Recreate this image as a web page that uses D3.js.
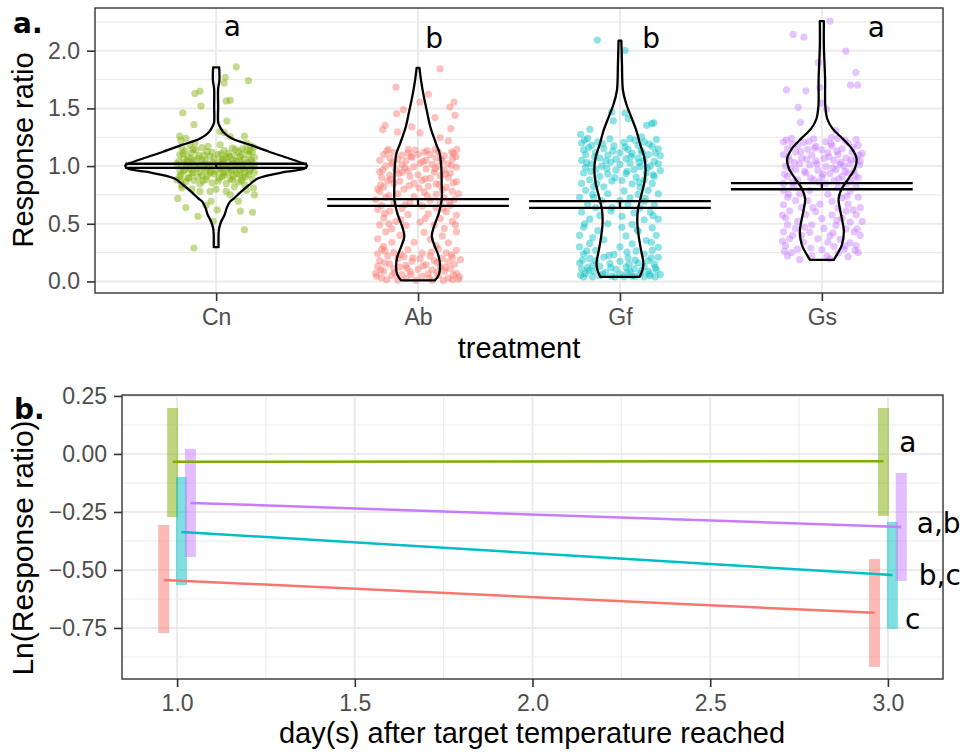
<!DOCTYPE html>
<html>
<head>
<meta charset="utf-8">
<script src="https://cdn.jsdelivr.net/npm/d3@7"></script>
<style>
  body { margin: 0; background: #fff; }
  svg text { font-family: "Liberation Sans", Arial, Helvetica, sans-serif; }
</style>
</head>
<body>
<div id="graph"></div>
<script>
// ---- data, panel a ----
var treatments = ["Cn", "Ab", "Gf", "Gs"];
var letters_a = ["a", "b", "b", "a"];
var letterPos_a = [[1.08, 2.13], [2.08, 2.02], [3.155, 2.02], [4.27, 2.12]];

// mean +/- se
var meanLo = [0.985, 0.655, 0.638, 0.799];
var meanHi = [1.02, 0.713, 0.696, 0.853];

// violin outlines: [value, half width in category units]
var violinCn = [[0.297,0.012],[0.405,0.012],[0.463,0.015],[0.52,0.025],[0.578,0.042],[0.635,0.052],[0.69,0.068],
  [0.721,0.089],[0.779,0.124],[0.836,0.163],[0.894,0.208],[0.951,0.347],[0.98,0.44],[1.005,0.45],[1.023,0.43],
  [1.066,0.362],[1.124,0.263],[1.181,0.173],[1.239,0.079],[1.296,0.035],[1.353,0.015],[1.382,0.01],[1.526,0.01],
  [1.67,0.01],[1.741,0.016],[1.856,0.015]];
var violinAb = [[0.01,0.084],[0.06,0.103],[0.132,0.109],[0.218,0.102],[0.305,0.083],[0.391,0.068],[0.477,0.079],
  [0.592,0.103],[0.707,0.117],[0.851,0.117],[0.994,0.115],[1.109,0.107],[1.195,0.089],[1.339,0.061],[1.483,0.043],
  [1.626,0.026],[1.741,0.015],[1.851,0.007]];
var violinGf = [[0.04,0.098],[0.103,0.112],[0.161,0.116],[0.276,0.104],[0.391,0.093],[0.506,0.086],[0.621,0.089],
  [0.736,0.104],[0.851,0.12],[0.966,0.127],[1.08,0.12],[1.195,0.099],[1.31,0.081],[1.425,0.056],[1.54,0.031],
  [1.655,0.015],[1.885,0.01],[2.086,0.007]];
var violinGs = [[0.187,0.059],[0.23,0.074],[0.316,0.099],[0.431,0.109],[0.546,0.099],[0.632,0.089],[0.718,0.083],
  [0.805,0.099],[0.891,0.132],[0.977,0.163],[1.063,0.172],[1.149,0.149],[1.236,0.104],[1.322,0.054],[1.408,0.027],
  [1.523,0.017],[1.753,0.016],[2.04,0.01],[2.256,0.01]];

// jittered points: [x jitter in category units, response ratio]
var pointsCn = [
  [0.10,1.86],[0.16,1.74],[0.045,1.77],[0.04,1.72],[-0.08,1.65],[-0.105,1.63],[0.07,1.57],[0.05,1.565],
  [-0.075,1.52],[-0.165,1.46],[-0.11,1.36],[0.053,1.39],[0.02,1.30],[-0.18,1.26],[-0.175,1.22],[0.14,1.26],
  [0.07,1.255],[0.04,1.29],[0.15,1.20],[-0.105,1.20],[-0.15,1.24],
  [-0.13,1.18],[0.02,1.185],[0.17,1.175],[-0.04,1.17],[-0.17,1.16],[0.08,1.155],[-0.07,1.16],[0.13,1.15],
  [0.185,1.165],[-0.10,1.14],[0.04,1.135],[0.15,1.14],[-0.155,1.13],[-0.02,1.12],[0.11,1.125],[-0.12,1.115],
  [0.18,1.12],[0.06,1.11],[-0.18,1.10],[-0.06,1.095],[0.01,1.10],[0.09,1.09],[0.16,1.10],[-0.14,1.08],
  [-0.03,1.085],[0.05,1.075],[0.12,1.08],[-0.09,1.07],[0.19,1.075],[-0.16,1.06],[-0.01,1.065],[0.08,1.055],
  [0.14,1.06],[-0.11,1.05],[0.03,1.05],[-0.185,1.04],[-0.07,1.045],[0.02,1.035],[0.10,1.04],[0.17,1.04],
  [-0.12,1.03],[0.06,1.03],[-0.15,1.02],[-0.04,1.02],[0.04,1.015],[0.13,1.02],[-0.09,1.01],[0.19,1.015],
  [0.00,1.005],[-0.17,1.00],[-0.10,0.995],[-0.02,1.00],[0.07,0.995],[0.15,1.00],[0.11,0.99],[-0.06,0.985],
  [0.03,0.98],[-0.13,0.975],[-0.05,0.97],[0.02,0.975],[0.09,0.97],[0.17,0.975],[-0.18,0.965],[0.12,0.96],
  [-0.16,0.955],[-0.08,0.95],[0.00,0.955],[0.06,0.945],[0.14,0.95],[-0.03,0.94],[0.19,0.945],[-0.12,0.935],
  [-0.01,0.93],[0.10,0.935],[0.16,0.925],[-0.07,0.92],[0.04,0.92],[-0.18,0.91],[-0.09,0.905],[0.03,0.91],
  [0.13,0.90],[-0.14,0.895],[0.07,0.89],[-0.05,0.885],[0.08,0.88],[0.18,0.885],[-0.11,0.875],[0.01,0.87],
  [-0.15,0.865],[0.11,0.86],[-0.02,0.855],[0.05,0.85],[-0.08,0.845],[0.14,0.84],[-0.17,0.835],
  [-0.115,1.145],[0.095,1.145],[-0.045,1.125],[0.165,1.13],[-0.165,1.11],[0.025,1.105],[0.125,1.10],[-0.085,1.09],
  [0.065,1.085],[-0.125,1.065],[0.035,1.06],[0.175,1.055],[-0.055,1.055],[0.115,1.045],[-0.145,1.04],[-0.015,1.03],
  [0.085,1.025],[0.155,1.03],[-0.195,1.02],[-0.065,1.01],[0.025,1.01],[0.105,1.005],[-0.135,0.995],[0.185,0.995],
  [-0.035,0.99],[0.055,0.985],[0.135,0.98],[-0.095,0.975],[-0.155,0.97],[0.075,0.96],[-0.025,0.955],[0.165,0.955],
  [-0.115,0.945],[0.035,0.94],[0.115,0.925],[-0.175,0.925],[-0.045,0.915],[0.085,0.91],[-0.135,0.90],[0.145,0.905],
  [0.015,0.895],[-0.065,0.87],[0.125,0.875],[-0.195,0.88],
  [-0.19,0.72],[-0.15,0.64],[-0.09,0.565],[0.005,0.62],[-0.025,0.695],[0.12,0.61],[0.18,0.60],[0.14,0.45],
  [-0.11,0.29],[0.19,0.75],[0.185,0.81],[0.11,0.695],[0.07,0.75],[0.05,0.78],[-0.03,0.78],[-0.08,0.78],
  [-0.17,0.81],[-0.175,0.87],[-0.015,0.52],[-0.05,0.66],[0.09,0.82],[-0.12,0.80],[0.0,0.80],[0.15,0.79]
];
var pointsAb = [
  [0.109,1.842],[-0.109,1.684],[0.051,1.621],[0.010,1.555],[0.178,1.555],[0.158,1.511],[-0.073,1.489],
  [-0.106,1.454],[0.084,1.420],[0.183,1.440],[-0.163,1.353],[-0.175,1.316],[-0.102,1.296],[-0.031,1.339],
  [0.010,1.287],[0.162,1.325],[0.109,1.247],[0.150,1.218],[-0.147,1.144],[-0.048,1.144],[-0.015,1.138],
  [0.192,1.144],[0.167,1.124],[0.188,1.080],[0.084,1.144],
  [-0.12,1.12],[-0.05,1.115],[0.03,1.12],[0.10,1.125],[-0.17,1.10],[-0.08,1.095],[0.06,1.10],[0.13,1.09],
  [0.00,1.10],[-0.14,1.07],[-0.03,1.075],[0.09,1.07],[0.17,1.065],[-0.10,1.06],[-0.19,1.05],[-0.06,1.045],
  [0.04,1.05],[0.12,1.04],[-0.13,1.02],[0.01,1.025],[0.07,1.015],[0.15,1.02],[-0.08,1.01],[-0.16,1.00],
  [-0.02,0.995],[0.10,1.00],[0.19,0.99],[-0.11,0.97],[0.04,0.975],[0.13,0.965],[-0.05,0.96],[-0.19,0.95],
  [-0.08,0.945],[0.08,0.95],[0.16,0.94],[-0.14,0.92],[0.00,0.925],[0.11,0.915],[-0.04,0.91],[-0.18,0.90],
  [0.06,0.895],[0.15,0.90],[-0.09,0.87],[0.02,0.875],[0.19,0.865],[-0.15,0.87],[-0.12,0.85],[0.09,0.845],
  [-0.02,0.85],[-0.17,0.82],[0.05,0.825],[0.14,0.815],[-0.07,0.80],[0.12,0.795],[-0.20,0.80],
  [-0.155,1.13],[0.045,1.135],[0.175,1.11],[-0.035,1.085],[0.115,1.06],[-0.125,1.035],[0.025,1.04],[0.165,1.005],
  [-0.065,0.985],[0.085,0.975],[-0.175,0.965],[0.135,0.93],[-0.095,0.935],[0.035,0.89],[-0.135,0.885],[0.175,0.855],
  [-0.045,0.83],[0.105,0.84],[-0.185,0.835],[0.005,0.81],
  [-0.19,0.78],[0.03,0.775],[0.17,0.78],[-0.10,0.76],[0.09,0.755],[0.20,0.76],[-0.16,0.73],[-0.02,0.735],
  [0.13,0.725],[-0.21,0.71],[0.06,0.705],[0.18,0.71],[-0.12,0.68],[-0.04,0.685],[0.11,0.675],[-0.18,0.66],
  [0.02,0.655],[0.16,0.66],[-0.08,0.63],[0.09,0.635],[-0.20,0.625],[-0.14,0.61],[0.14,0.605],[-0.05,0.58],
  [0.05,0.585],[0.19,0.575],[-0.17,0.55],[0.11,0.545],[-0.11,0.52],[0.01,0.515],[0.17,0.52],[-0.19,0.49],
  [-0.06,0.485],[0.08,0.49],[0.13,0.46],[-0.13,0.455],
  [-0.145,0.745],[0.045,0.745],[0.155,0.69],[-0.065,0.665],[0.125,0.63],[-0.165,0.59],[0.035,0.545],[-0.085,0.535],
  [0.185,0.49],[-0.145,0.50],
  [-0.16,0.43],[0.03,0.425],[0.19,0.43],[-0.09,0.40],[0.12,0.395],[-0.20,0.37],[0.06,0.365],[-0.13,0.34],
  [0.15,0.335],[-0.02,0.34],[0.09,0.31],[-0.17,0.305],
  [-0.18,0.28],[-0.05,0.275],[0.10,0.28],[0.19,0.27],[-0.12,0.25],[0.02,0.245],[0.14,0.25],[-0.20,0.24],
  [-0.15,0.22],[-0.07,0.215],[0.06,0.22],[0.17,0.21],[-0.10,0.20],[0.01,0.195],[0.12,0.20],[0.21,0.19],
  [-0.19,0.18],[-0.03,0.175],[0.08,0.18],[0.15,0.17],[-0.14,0.15],[0.04,0.145],[0.18,0.15],[-0.06,0.14],
  [-0.20,0.13],[-0.09,0.125],[0.11,0.13],[-0.12,0.11],[0.00,0.105],[0.16,0.11],[0.07,0.10],[-0.17,0.09],
  [-0.04,0.085],[0.13,0.09],[-0.21,0.07],[0.05,0.065],[0.19,0.07],[-0.08,0.06],[-0.13,0.05],[0.02,0.045],
  [0.10,0.05],[-0.18,0.03],[-0.06,0.025],[0.15,0.03],[0.20,0.02],[-0.10,0.012],[0.07,0.01],[0.17,0.015],
  [-0.01,0.01],
  [-0.165,0.265],[0.065,0.255],[-0.085,0.235],[0.165,0.23],[-0.025,0.205],[0.095,0.165],[-0.165,0.16],[0.025,0.135],
  [-0.055,0.115],[0.135,0.12],[-0.185,0.10],[0.095,0.08],[-0.115,0.075],[0.175,0.055],[-0.035,0.06],[0.055,0.03],
  [-0.155,0.015],[0.125,0.01],[0.205,0.04],[-0.205,0.045]
];
var pointsGf = [
  [-0.112,2.092],[0.025,2.0],[0.157,1.368],[0.132,1.353],[0.168,1.374],[-0.149,1.319],[-0.195,1.276],
  [0.107,1.253],[0.041,1.411],[-0.033,1.391],[-0.041,1.468],[0.025,1.46],
  [-0.16,1.24],[-0.05,1.235],[0.05,1.24],[0.18,1.23],[-0.11,1.21],[0.02,1.205],[0.12,1.21],[-0.19,1.20],
  [-0.14,1.18],[-0.03,1.175],[0.09,1.18],[0.16,1.17],[-0.08,1.15],[0.04,1.145],[0.19,1.15],[-0.18,1.14],
  [-0.12,1.12],[0.00,1.115],[0.11,1.12],[0.06,1.11],[-0.17,1.10],[-0.06,1.095],[0.14,1.10],[0.20,1.09],
  [-0.10,1.07],[0.03,1.065],[0.09,1.07],[-0.02,1.06],[-0.19,1.05],[-0.07,1.045],[0.12,1.05],[0.17,1.04],
  [-0.14,1.02],[0.05,1.025],[0.00,1.015],[0.19,1.02],[-0.09,1.00],[0.10,0.995],[0.15,1.00],[-0.17,0.99],
  [-0.12,0.97],[-0.02,0.965],[0.07,0.97],[0.20,0.96],[-0.18,0.94],[0.03,0.935],[0.13,0.94],[-0.06,0.93],
  [-0.10,0.91],[0.08,0.905],[0.17,0.91],[-0.15,0.88],[0.01,0.875],[0.12,0.88],[-0.04,0.87],[-0.19,0.85],
  [0.06,0.845],[0.16,0.85],[-0.08,0.82],[0.10,0.815],[-0.13,0.82],
  [-0.175,1.225],[0.075,1.225],[-0.085,1.195],[0.145,1.19],[0.025,1.165],[-0.155,1.16],[0.105,1.135],[-0.035,1.13],
  [0.175,1.115],[-0.125,1.08],[0.055,1.085],[-0.045,1.035],[0.095,1.03],[-0.165,1.03],[0.135,0.985],[-0.065,0.98],
  [0.035,0.955],[-0.145,0.955],[0.165,0.925],[-0.025,0.90],[0.095,0.86],[-0.115,0.85],
  [-0.17,0.79],[0.02,0.785],[0.14,0.79],[-0.06,0.76],[0.09,0.755],[0.19,0.76],[-0.13,0.73],[0.05,0.725],
  [-0.20,0.73],[-0.09,0.70],[0.12,0.695],[0.00,0.70],[-0.16,0.67],[0.17,0.665],[0.04,0.67],[-0.04,0.64],
  [0.10,0.635],[-0.12,0.64],[-0.19,0.60],[0.07,0.595],[0.15,0.60],[-0.10,0.57],[0.01,0.565],[-0.15,0.54],
  [0.12,0.535],[0.19,0.54],[-0.06,0.50],[0.06,0.495],[-0.18,0.47],[0.16,0.465],[0.01,0.47],[-0.11,0.44],
  [0.09,0.435],[-0.20,0.40],[0.03,0.395],[0.18,0.40],[-0.08,0.36],[0.13,0.355],[-0.15,0.33],[0.06,0.325],
  [0.00,0.30],[0.19,0.295],[-0.20,0.30],
  [-0.135,0.755],[0.125,0.72],[-0.045,0.61],[0.165,0.57],[-0.175,0.50],[0.085,0.45],[-0.135,0.38],[0.155,0.34],
  [-0.12,0.27],[0.08,0.265],[0.16,0.27],[-0.18,0.24],[-0.03,0.235],[0.12,0.24],[-0.08,0.21],[0.04,0.205],
  [0.19,0.21],[-0.15,0.20],[-0.12,0.18],[0.00,0.175],[0.14,0.18],[-0.20,0.16],[-0.05,0.155],[0.09,0.16],
  [0.17,0.15],[-0.10,0.13],[0.03,0.125],[0.12,0.13],[-0.16,0.12],[-0.19,0.11],[-0.02,0.105],[0.07,0.11],
  [0.18,0.10],[-0.13,0.09],[0.05,0.085],[0.14,0.09],[-0.07,0.08],[-0.17,0.07],[0.00,0.065],[0.10,0.07],
  [0.20,0.06],[-0.10,0.05],[0.06,0.045],[0.15,0.05],[-0.04,0.045],[-0.18,0.04],[0.02,0.04],[0.12,0.04],
  [-0.165,0.265],[0.035,0.255],[-0.055,0.225],[0.155,0.205],[-0.185,0.185],[0.075,0.185],[-0.135,0.14],[0.045,0.15],
  [0.175,0.12],[-0.045,0.12],[-0.155,0.095],[0.105,0.095],[0.035,0.08],[-0.085,0.065],[0.145,0.065],[-0.195,0.055],
  [0.075,0.045],[-0.135,0.04],[0.175,0.04],[-0.025,0.04]
];
var pointsGs = [
  [0.040,2.256],[-0.142,2.141],[-0.089,2.118],[0.119,1.997],[-0.018,1.897],[0.168,1.810],[0.142,1.701],
  [0.177,1.701],[-0.175,1.661],[-0.079,1.652],[-0.010,1.681],[-0.117,1.509],[-0.002,1.546],[0.023,1.494],
  [-0.106,1.379],[0.069,1.307],[0.048,1.250],
  [-0.15,1.24],[-0.04,1.235],[0.08,1.24],[0.17,1.23],[-0.19,1.21],[-0.09,1.205],[0.02,1.21],[0.13,1.20],
  [-0.12,1.18],[0.05,1.175],[0.18,1.18],[-0.03,1.17],[-0.17,1.15],[-0.07,1.145],[0.10,1.15],[0.00,1.14],
  [-0.13,1.12],[0.03,1.115],[0.15,1.12],[0.20,1.11],[-0.19,1.10],[-0.05,1.095],[0.08,1.10],[-0.10,1.07],
  [0.01,1.065],[0.12,1.07],[0.17,1.06],[-0.16,1.05],[-0.03,1.045],[0.06,1.05],[0.19,1.04],[-0.11,1.02],
  [0.09,1.015],[0.14,1.02],[-0.06,1.01],[-0.18,1.00],[0.02,0.995],[0.11,1.00],[-0.13,0.97],[-0.02,0.965],
  [0.07,0.97],[0.16,0.96],[-0.08,0.94],[0.04,0.935],[0.13,0.94],[-0.17,0.91],[0.00,0.905],[0.10,0.91],
  [0.18,0.90],[-0.12,0.88],[0.06,0.875],[-0.04,0.88],[-0.19,0.85],[0.12,0.845],[0.02,0.85],
  [-0.175,1.225],[0.115,1.225],[-0.065,1.215],[0.045,1.195],[-0.145,1.19],[0.155,1.165],[-0.035,1.155],[0.075,1.13],
  [-0.105,1.125],[0.185,1.095],[-0.165,1.08],[0.035,1.08],[-0.075,1.06],[0.145,1.055],[0.095,1.035],[-0.135,1.03],
  [-0.025,1.02],[0.185,1.01],[0.055,0.985],[-0.155,0.98],[-0.085,0.955],[0.115,0.955],[0.005,0.93],[-0.185,0.93],
  [0.165,0.915],[-0.055,0.895],[0.085,0.89],[-0.145,0.86],[0.145,0.87],[-0.015,0.86],
  [-0.14,0.82],[0.08,0.815],[0.17,0.82],[-0.06,0.79],[0.14,0.785],[-0.19,0.79],[-0.11,0.76],[0.03,0.755],
  [-0.17,0.73],[0.10,0.725],[0.18,0.73],[-0.07,0.70],[0.05,0.695],[-0.13,0.70],[0.13,0.67],[-0.19,0.665],
  [-0.01,0.67],[-0.10,0.64],[0.08,0.635],[0.19,0.64],[-0.16,0.61],[-0.03,0.605],[0.12,0.61],[-0.08,0.58],
  [0.05,0.575],[0.17,0.58],[-0.18,0.55],[0.00,0.545],[0.10,0.55],[-0.12,0.52],[0.14,0.515],[0.20,0.52],
  [-0.05,0.49],[0.07,0.485],[-0.17,0.49],[-0.13,0.46],[0.12,0.455],[0.01,0.46],[-0.19,0.43],[-0.06,0.425],
  [0.16,0.43],[-0.10,0.40],[0.04,0.395],[0.19,0.40],[-0.16,0.37],[0.09,0.365],[-0.02,0.37],[-0.09,0.34],
  [0.14,0.335],[0.03,0.34],[-0.18,0.31],[0.06,0.305],[0.17,0.31],[-0.12,0.28],[0.00,0.275],[0.11,0.28],
  [-0.15,0.25],[0.08,0.245],[0.18,0.25],[-0.05,0.22],[0.13,0.215],[-0.17,0.22],[-0.11,0.19],[0.04,0.195],
  [-0.165,0.755],[0.125,0.74],[-0.045,0.64],[0.155,0.62],[-0.195,0.575],[0.075,0.53],[-0.085,0.47],[0.175,0.455],
  [-0.145,0.40],[0.055,0.42],[-0.195,0.35],[0.115,0.31],[-0.055,0.29],[0.165,0.27],[-0.185,0.26],[0.025,0.22]
];
var violins = [violinCn, violinAb, violinGf, violinGs];
var points = [pointsCn, pointsAb, pointsGf, pointsGs];

// ---- data, panel b ----
var groups = ["Ab", "Cn", "Gf", "Gs"];
var days = [1, 3];
var lnMean = { Ab: [-0.543, -0.685], Cn: [-0.034, -0.031], Gf: [-0.336, -0.522], Gs: [-0.211, -0.315] };
var lnLo   = { Ab: [-0.772, -0.918], Cn: [-0.272, -0.267], Gf: [-0.565, -0.754], Gs: [-0.444, -0.547] };
var lnHi   = { Ab: [-0.306, -0.453], Cn: [0.198, 0.198],   Gf: [-0.099, -0.293], Gs: [0.022, -0.082] };
var letters_b = ["a", "a,b", "b,c", "c"];
var letterPos_b = [[3.056, 0.009], [3.143, -0.339], [3.146, -0.565], [3.07, -0.754]];

var colour = { Ab: "#F8766D", Cn: "#7CAE00", Gf: "#00BFC4", Gs: "#C77CFF" };

var width = 966, height = 754;
var svg = d3.select("#graph").append("svg")
  .attr("width", width).attr("height", height)
  .style("background", "#fff");

function styleAxis(g, size) {
  g.select(".domain").remove();
  g.selectAll(".tick line").attr("stroke", "#333333").attr("stroke-width", 1.6);
  g.selectAll(".tick text").attr("fill", "#4d4d4d").style("font-size", size + "px")
    .style("font-family", "'Liberation Sans', Arial, sans-serif");
}

function grid(g, x, y, xs, ys, w) {
  g.selectAll(null).data(ys).enter().append("line")
    .attr("x1", x.range()[0]).attr("x2", x.range()[1])
    .attr("y1", d => y(d)).attr("y2", d => y(d))
    .attr("stroke", "#ebebeb").attr("stroke-width", w);
  g.selectAll(null).data(xs).enter().append("line")
    .attr("y1", y.range()[0]).attr("y2", y.range()[1])
    .attr("x1", d => x(d)).attr("x2", d => x(d))
    .attr("stroke", "#ebebeb").attr("stroke-width", w);
}

// ================= panel a =================
var xa = d3.scaleLinear().domain([0.4, 4.6]).range([95, 943]);
var ya = d3.scaleLinear().domain([-0.1, 2.37]).range([293, 8]);
var pa = svg.append("g");

grid(pa, xa, ya, [], [0.25, 0.75, 1.25, 1.75, 2.25], 1.1);
grid(pa, xa, ya, [1, 2, 3, 4], [0, 0.5, 1, 1.5, 2], 2);

// jittered points
treatments.forEach(function (t, i) {
  pa.append("g").selectAll("circle")
    .data(points[i]).enter().append("circle")
    .attr("cx", d => xa(i + 1 + d[0]))
    .attr("cy", d => ya(d[1]))
    .attr("r", 3.6)
    .attr("fill", colour[t])
    .attr("fill-opacity", 0.45);
});

// violins
treatments.forEach(function (t, i) {
  var area = d3.area()
    .y(d => ya(d[0]))
    .x0(d => xa(i + 1 - d[1]))
    .x1(d => xa(i + 1 + d[1]))
    .curve(d3.curveCatmullRom);
  pa.append("path")
    .datum(violins[i])
    .attr("d", area)
    .attr("fill", "none")
    .attr("stroke", "#000")
    .attr("stroke-width", 2.3)
    .attr("stroke-linejoin", "round");
});

// mean +/- se error bars
treatments.forEach(function (t, i) {
  var g = pa.append("g").attr("stroke", "#000").attr("stroke-width", 2.3);
  [meanLo[i], meanHi[i]].forEach(function (v) {
    g.append("line").attr("x1", xa(i + 0.55)).attr("x2", xa(i + 1.45))
      .attr("y1", ya(v)).attr("y2", ya(v));
  });
  g.append("line").attr("x1", xa(i + 1)).attr("x2", xa(i + 1))
    .attr("y1", ya(meanLo[i])).attr("y2", ya(meanHi[i]));
});

// significance letters
pa.selectAll(".lettA").data(letters_a).enter().append("text")
  .attr("x", (d, i) => xa(letterPos_a[i][0]))
  .attr("y", (d, i) => ya(letterPos_a[i][1]))
  .attr("text-anchor", "middle")
  .style("font-family", "'DejaVu Sans', sans-serif")
  .style("font-size", "28px")
  .text(d => d);

pa.append("rect").attr("x", 95).attr("y", 8).attr("width", 848).attr("height", 285)
  .attr("fill", "none").attr("stroke", "#333333").attr("stroke-width", 1.4);

var xAxisA = pa.append("g").attr("transform", "translate(0,293)")
  .call(d3.axisBottom(xa).tickValues([1, 2, 3, 4]).tickFormat((d, i) => treatments[i])
    .tickSize(8).tickPadding(8));
styleAxis(xAxisA, 23);
var yAxisA = pa.append("g").attr("transform", "translate(95,0)")
  .call(d3.axisLeft(ya).tickValues([0, 0.5, 1, 1.5, 2]).tickFormat(d3.format(".1f"))
    .tickSize(8).tickPadding(7));
styleAxis(yAxisA, 23);

pa.append("text").attr("x", 519).attr("y", 358).attr("text-anchor", "middle")
  .style("font-size", "29px").text("treatment");
pa.append("text").attr("transform", "translate(33,150) rotate(-90)").attr("text-anchor", "middle")
  .style("font-size", "29px").text("Response ratio");
pa.append("text").attr("x", 13).attr("y", 33)
  .style("font-family", "'DejaVu Sans', sans-serif").style("font-weight", "bold")
  .style("font-size", "28px").text("a.");

// ================= panel b =================
var xb = d3.scaleLinear().domain([0.845, 3.155]).range([122, 943]);
var yb = d3.scaleLinear().domain([-0.97, 0.254]).range([679, 395]);
var dodge = d3.scalePoint().domain(groups).range([-0.0375, 0.0375]);
var pb = svg.append("g");

grid(pb, xb, yb, [1.25, 1.75, 2.25, 2.75], [0.125, -0.125, -0.375, -0.625, -0.875], 1.1);
grid(pb, xb, yb, [1, 1.5, 2, 2.5, 3], [0.25, 0, -0.25, -0.5, -0.75], 2);

// ranges
groups.forEach(function (gname) {
  pb.append("g").selectAll("rect")
    .data(days).enter().append("rect")
    .attr("x", (d) => xb(d + dodge(gname)) - 5.5)
    .attr("width", 11)
    .attr("y", (d, j) => yb(lnHi[gname][j]))
    .attr("height", (d, j) => yb(lnLo[gname][j]) - yb(lnHi[gname][j]))
    .attr("fill", colour[gname])
    .attr("fill-opacity", 0.5);
});

// mean lines
var line = d3.line();
groups.forEach(function (gname) {
  pb.append("path")
    .datum(days.map((d, j) => [xb(d + dodge(gname)), yb(lnMean[gname][j])]))
    .attr("d", line)
    .attr("fill", "none")
    .attr("stroke", colour[gname])
    .attr("stroke-width", 2.5);
});

pb.selectAll(".lettB").data(letters_b).enter().append("text")
  .attr("x", (d, i) => xb(letterPos_b[i][0]))
  .attr("y", (d, i) => yb(letterPos_b[i][1]))
  .attr("text-anchor", "middle")
  .style("font-family", "'DejaVu Sans', sans-serif")
  .style("font-size", "28px")
  .text(d => d);

pb.append("rect").attr("x", 122).attr("y", 395).attr("width", 821).attr("height", 284)
  .attr("fill", "none").attr("stroke", "#333333").attr("stroke-width", 1.4);

var xAxisB = pb.append("g").attr("transform", "translate(0,679)")
  .call(d3.axisBottom(xb).tickValues([1, 1.5, 2, 2.5, 3]).tickFormat(d3.format(".1f"))
    .tickSize(8).tickPadding(8));
styleAxis(xAxisB, 23);
var yAxisB = pb.append("g").attr("transform", "translate(122,0)")
  .call(d3.axisLeft(yb).tickValues([0.25, 0, -0.25, -0.5, -0.75]).tickFormat(d3.format(".2f"))
    .tickSize(8).tickPadding(7));
styleAxis(yAxisB, 23);

pb.append("text").attr("x", 532).attr("y", 743).attr("text-anchor", "middle")
  .style("font-size", "29px").text("day(s) after target temperature reached");
pb.append("text").attr("transform", "translate(33,548) rotate(-90)").attr("text-anchor", "middle")
  .style("font-size", "30px").text("Ln(Response ratio)");
pb.append("text").attr("x", 14).attr("y", 419)
  .style("font-family", "'DejaVu Sans', sans-serif").style("font-weight", "bold")
  .style("font-size", "28px").text("b.");
</script>
</body>
</html>
